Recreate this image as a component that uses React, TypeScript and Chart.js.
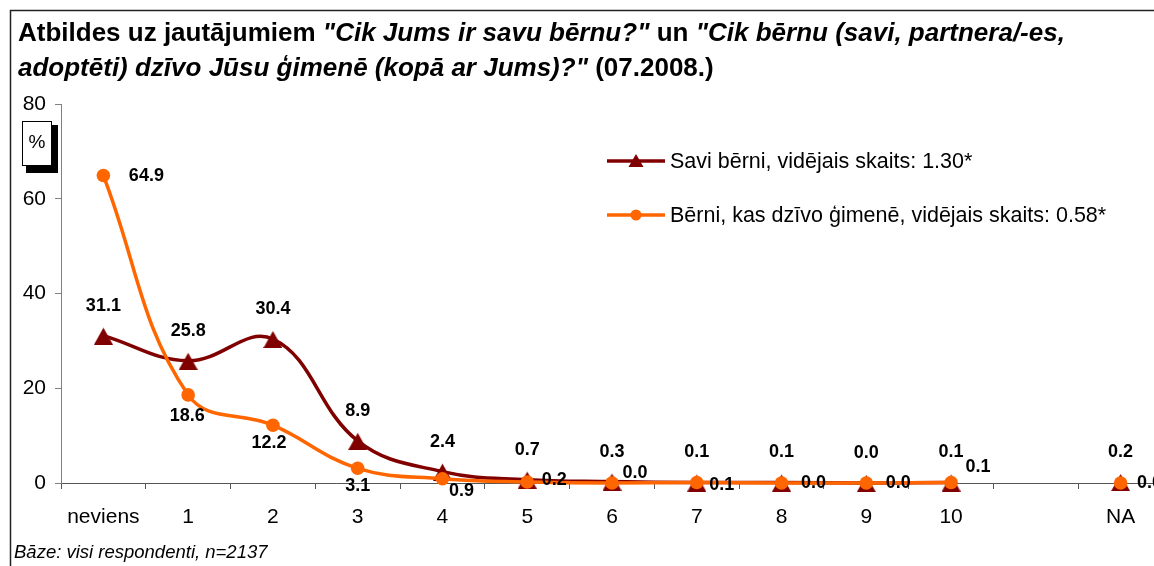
import React, { useEffect, useRef } from "react";
import { Chart, registerables } from "chart.js";

Chart.register(...registerables);

// ---------- data ----------
const categories = ["neviens", "1", "2", "3", "4", "5", "6", "7", "8", "9", "10", "", "NA"];
const ownChildren = [31.1, 25.8, 30.4, 8.9, 2.4, 0.7, 0.3, 0.1, 0.1, 0.0, 0.1, null, 0.2];
const familyChildren = [64.9, 18.6, 12.2, 3.1, 0.9, 0.2, 0.0, 0.1, 0.0, 0.0, 0.1, null, 0.0];
const yTicks = [0, 20, 40, 60, 80];
const seriesNames = [
  "Savi bērni, vidējais skaits: 1.30*",
  "Bērni, kas dzīvo ģimenē, vidējais skaits: 0.58*",
];
const titleLines: { t: string; i: boolean }[][] = [
  [
    { t: "Atbildes uz jautājumiem ", i: false },
    { t: "\"Cik Jums ir savu bērnu?\"", i: true },
    { t: " un ", i: false },
    { t: "\"Cik bērnu (savi, partnera/-es,", i: true },
  ],
  [
    { t: "adoptēti) dzīvo Jūsu ģimenē (kopā ar Jums)?\"", i: true },
    { t: " (07.2008.)", i: false },
  ],
];
const footnote = "Bāze: visi respondenti, n=2137";
const unitLabel = "%";

// ---------- style ----------
const FONT = "'Liberation Sans', Arial, sans-serif";
const RED = "#800000";
const ORANGE = "#FF6600";
// label placement (dx, dy from point) – presentation only
const ownLabelOffset = [0, -30];
const familyLabelOffsets: ([number, number] | null)[] = [
  [43, 0], [-1, 21], [-4, 18], [0, 18], [19, 12], [27, -2], [23, -10],
  [25, 3], [32, 0], [32, 0], [27, -15], null, [29, 0],
];

const W = 1172;
const H = 566;

function fmt(v: number) {
  return v.toFixed(1);
}

// Excel-like triangle marker, roughly centred on its bounding box
function makeTriangle(w: number, h: number, color: string) {
  const c = document.createElement("canvas");
  c.width = w;
  c.height = h;
  const g = c.getContext("2d")!;
  g.fillStyle = color;
  g.beginPath();
  g.moveTo(w / 2, 1);
  g.lineTo(w, h);
  g.lineTo(0, h);
  g.closePath();
  g.fill();
  return c;
}

const decorPlugin = {
  id: "decor",
  beforeDraw(chart: any) {
    const ctx: CanvasRenderingContext2D = chart.ctx;
    ctx.save();
    ctx.fillStyle = "#fff";
    ctx.fillRect(0, 0, chart.width, chart.height);
    // frame
    ctx.strokeStyle = "#222";
    ctx.lineWidth = 1.5;
    ctx.beginPath();
    ctx.moveTo(10.5, chart.height);
    ctx.lineTo(10.5, 10.5);
    ctx.lineTo(chart.width, 10.5);
    ctx.stroke();
    // title
    ctx.fillStyle = "#000";
    ctx.textBaseline = "alphabetic";
    ctx.textAlign = "left";
    const baselines = [41, 76];
    titleLines.forEach((line, li) => {
      let x = 18;
      line.forEach((seg) => {
        ctx.font = `${seg.i ? "italic " : ""}bold 26px ${FONT}`;
        ctx.fillText(seg.t, x, baselines[li]);
        x += ctx.measureText(seg.t).width;
      });
    });
    // footnote
    ctx.font = `italic 18.5px ${FONT}`;
    ctx.fillText(footnote, 14, 558);
    ctx.restore();
  },
  afterDatasetsDraw(chart: any) {
    const ctx: CanvasRenderingContext2D = chart.ctx;
    ctx.save();
    ctx.font = `bold 18px ${FONT}`;
    ctx.fillStyle = "#000";
    ctx.textAlign = "center";
    ctx.textBaseline = "middle";
    const metaOwn = chart.getDatasetMeta(1);
    ownChildren.forEach((v, i) => {
      if (v === null) return;
      const p = metaOwn.data[i];
      ctx.fillText(fmt(v), p.x + ownLabelOffset[0], p.y + ownLabelOffset[1]);
    });
    const metaFam = chart.getDatasetMeta(0);
    familyChildren.forEach((v, i) => {
      const off = familyLabelOffsets[i];
      if (v === null || !off) return;
      const p = metaFam.data[i];
      ctx.fillText(fmt(v), p.x + off[0], p.y + off[1]);
    });
    ctx.restore();
  },
  afterDraw(chart: any) {
    const ctx: CanvasRenderingContext2D = chart.ctx;
    ctx.save();
    // legend
    const items = [
      { name: seriesNames[0], color: RED, tri: true, y: 161 },
      { name: seriesNames[1], color: ORANGE, tri: false, y: 215 },
    ];
    items.forEach((it) => {
      ctx.strokeStyle = it.color;
      ctx.lineWidth = 3.5;
      ctx.beginPath();
      ctx.moveTo(607, it.y);
      ctx.lineTo(665, it.y);
      ctx.stroke();
      ctx.fillStyle = it.color;
      ctx.beginPath();
      if (it.tri) {
        ctx.moveTo(636, it.y - 7);
        ctx.lineTo(643.5, it.y + 6);
        ctx.lineTo(628.5, it.y + 6);
        ctx.closePath();
      } else {
        ctx.arc(636, it.y, 5.5, 0, Math.PI * 2);
      }
      ctx.fill();
      ctx.fillStyle = "#000";
      ctx.font = `21.5px ${FONT}`;
      ctx.textAlign = "left";
      ctx.textBaseline = "middle";
      ctx.fillText(it.name, 670, it.y + 1);
    });
    // % box
    ctx.fillStyle = "#000";
    ctx.fillRect(26, 125, 32, 48);
    ctx.fillStyle = "#fff";
    ctx.fillRect(22, 121, 30, 45);
    ctx.strokeStyle = "#000";
    ctx.lineWidth = 1;
    ctx.strokeRect(22.5, 121.5, 29, 44);
    ctx.fillStyle = "#000";
    ctx.font = `19px ${FONT}`;
    ctx.textAlign = "center";
    ctx.textBaseline = "middle";
    ctx.fillText(unitLabel, 37, 143);
    ctx.restore();
  },
};

export default function App() {
  const ref = useRef<HTMLCanvasElement | null>(null);
  useEffect(() => {
    if (!ref.current) return;
    const triangle = makeTriangle(19, 18, RED);
    const chart = new Chart(ref.current, {
      type: "line",
      data: {
        labels: categories,
        datasets: [
          {
            label: seriesNames[1],
            data: familyChildren,
            borderColor: ORANGE,
            backgroundColor: ORANGE,
            borderWidth: 3.5,
            pointStyle: "circle",
            pointRadius: 6.8,
            pointBackgroundColor: ORANGE,
            pointBorderColor: ORANGE,
            pointBorderWidth: 0,
            tension: 0.4,
            spanGaps: false,
            clip: false,
            order: 1,
          },
          {
            label: seriesNames[0],
            data: ownChildren,
            borderColor: RED,
            backgroundColor: RED,
            borderWidth: 3.5,
            pointStyle: triangle as any,
            pointRadius: 9,
            pointBackgroundColor: RED,
            pointBorderColor: RED,
            pointBorderWidth: 0,
            tension: 0.4,
            spanGaps: false,
            clip: false,
            order: 2,
          },
        ],
      },
      options: {
        responsive: false,
        animation: false,
        devicePixelRatio: 1,
        layout: { padding: { top: 104, left: 0, right: 7, bottom: 0 } },
        plugins: {
          legend: { display: false },
          tooltip: { enabled: false },
          title: { display: false },
        },
        scales: {
          x: {
            type: "category",
            offset: true,
            afterFit: (s: any) => {
              s.height = 83;
            },
            grid: {
              offset: true,
              drawOnChartArea: false,
              drawTicks: true,
              tickLength: 6,
              color: "#555",
            },
            border: { display: true, color: "#555", width: 1 },
            ticks: {
              font: { family: FONT, size: 21 },
              color: "#000",
              padding: 16,
              maxRotation: 0,
              autoSkip: false,
            },
          },
          y: {
            min: 0,
            max: 80,
            afterFit: (s: any) => {
              s.width = 61;
            },
            afterBuildTicks: (s: any) => {
              s.ticks = yTicks.map((v) => ({ value: v }));
            },
            grid: {
              drawOnChartArea: false,
              drawTicks: true,
              tickLength: 6,
              color: "#808080",
            },
            border: { display: true, color: "#808080", width: 1 },
            ticks: {
              font: { family: FONT, size: 21 },
              color: "#000",
              padding: 9,
            },
          },
        },
      },
      plugins: [decorPlugin],
    });
    return () => chart.destroy();
  }, []);

  return (
    <div style={{ position: "fixed", left: 0, top: 0, width: 1154, height: 566, overflow: "hidden", background: "#fff" }}>
      <canvas ref={ref} width={W} height={H} style={{ display: "block", width: W, height: H }} />
    </div>
  );
}
